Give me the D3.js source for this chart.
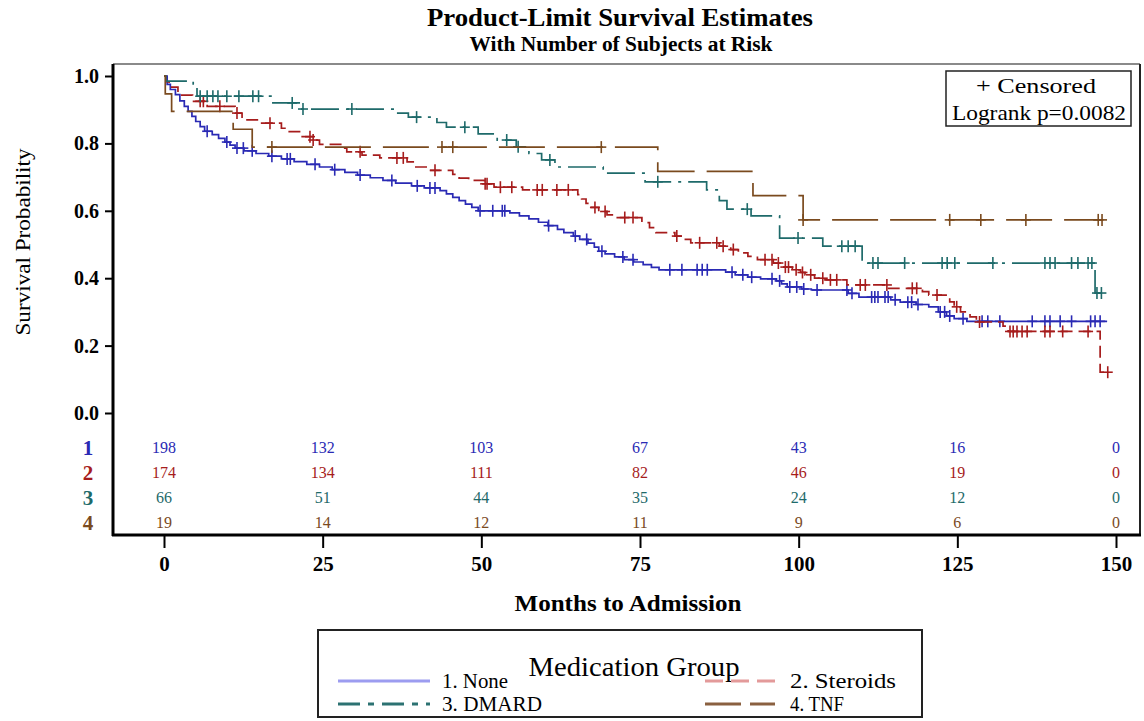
<!DOCTYPE html>
<html><head><meta charset="utf-8">
<script src="https://cdn.jsdelivr.net/npm/d3@7"></script>
<style>
body{margin:0;background:#fff;}
svg{font-family:"Liberation Serif","Times New Roman",serif;}
</style></head>
<body><svg id="c" width="1144" height="721"></svg>
<script>
// ---------- DATA ----------
const groups = ["1. None", "2. Steroids", "3. DMARD", "4. TNF"];
const rowLabels = ["1", "2", "3", "4"];
const xTicks = [0, 25, 50, 75, 100, 125, 150];
const yTicks = [0.0, 0.2, 0.4, 0.6, 0.8, 1.0];

// Group 1: None
const noneTimes = [0,0.5,1.0,1.8,2.5,3.2,3.8,4.4,5.0,5.7,6.4,7.6,8.6,9.6,10.4,11.2,12.6,14.5,16.5,18.5,20.5,22.5,24.5,26.5,28.5,30.5,32.5,34.5,36.5,39,41,43.5,44.5,45.5,46.5,47.5,48.5,49.5,54.5,56,57.5,59,60.5,62,63,64.5,65.5,66.8,67.8,68.5,69.5,71,72.5,74,75.5,76.8,78,88.5,90,92,94,96.5,97.3,98.2,100.5,102,107.8,109.5,114.5,116,118.5,120.5,122,123.3,124.5,126.5];
const noneSurv = [1.0,0.975,0.96,0.945,0.926,0.91,0.895,0.88,0.865,0.85,0.836,0.826,0.815,0.804,0.795,0.786,0.778,0.770,0.762,0.754,0.746,0.738,0.730,0.722,0.714,0.706,0.698,0.690,0.682,0.674,0.668,0.660,0.650,0.640,0.630,0.620,0.610,0.600,0.594,0.585,0.576,0.566,0.556,0.545,0.535,0.525,0.515,0.504,0.492,0.480,0.472,0.463,0.455,0.448,0.440,0.432,0.425,0.418,0.410,0.403,0.398,0.392,0.383,0.374,0.368,0.365,0.355,0.344,0.336,0.329,0.322,0.315,0.300,0.288,0.280,0.272];
const noneCensor = [6.8,9.9,11.5,12.5,13.9,17,19.4,19.9,23.8,26.9,30.9,35.9,39.9,41.9,42.7,49.8,51.8,53.3,53.7,60.6,64.8,66.6,69,72.3,73.9,79.7,81.6,84,84.8,85.6,89.5,91.2,92.6,95.8,97,98.6,99.7,100.8,102.9,107.6,108.4,111.5,112,112.5,113.6,114.1,115.2,117.2,117.8,118.8,122.3,123,123.8,125.9,128.9,129.8,131.7,136.8,138.8,139.6,141.2,143,146,146.7,147.5];
const noneEnd = 148.6;

// Group 2: Steroids
const steroidTimes = [0,0.3,0.8,2.2,2.8,4.5,6.8,11.2,12.3,15,18.5,19.5,21.5,23.5,24.5,28,28.8,31.2,34,38.3,39.5,42,45.5,46.5,48,50.5,52,56.5,65.2,65.8,66.5,67.2,68.5,69.8,71,75.3,76.5,77.5,80.5,82,83,87.5,89.3,90.5,92,93.5,96,97.5,99,100.3,101,102.5,104,107.6,114,119.5,120.5,123.8,124.5,125.5,127,128,132.2,133,147.5];
const steroidSurv = [1.0,0.983,0.967,0.955,0.943,0.925,0.91,0.89,0.87,0.86,0.845,0.835,0.82,0.81,0.797,0.786,0.775,0.765,0.757,0.745,0.73,0.72,0.708,0.697,0.69,0.68,0.67,0.662,0.648,0.635,0.622,0.61,0.598,0.588,0.58,0.565,0.55,0.535,0.525,0.515,0.505,0.495,0.485,0.475,0.465,0.455,0.445,0.433,0.425,0.417,0.41,0.40,0.395,0.38,0.37,0.36,0.35,0.33,0.315,0.30,0.285,0.27,0.258,0.242,0.121];
const steroidCensor = [5.7,6.2,8.8,11.5,16.7,23,23.5,30.9,36.7,37.7,42.7,50.6,50.9,53,54.8,58.8,59.6,61.9,63.7,67.9,69.5,72.6,73.9,80.8,84.4,87.1,88.1,89.7,94.7,95.8,96.8,97.9,98.4,99.6,100.6,101.9,103.8,105,106,109.7,110.5,113.9,117.9,118.6,121.8,124.9,128.5,133.3,133.8,134.4,135.2,136,138.8,139.6,141.6,145.6,148.7];
const steroidEnd = 148.7;

// Group 3: DMARD
const dmardTimes = [0,0.3,4.6,5.2,17,21.7,36.7,38.5,43,44.5,49.5,52.5,55.5,57.5,59.5,61.6,69.2,75.8,85.5,87.5,88.7,92.5,97.0,103.8,110,146.7];
const dmardSurv = [1.0,0.985,0.97,0.94,0.92,0.902,0.89,0.878,0.862,0.848,0.828,0.81,0.79,0.77,0.751,0.73,0.712,0.686,0.662,0.63,0.605,0.585,0.519,0.495,0.445,0.356];
const dmardCensor = [5.7,6.8,7.7,8.5,9.9,11.8,14,14.9,20.2,21.9,29.6,39.8,47.4,54,55.8,60.8,77.8,91.9,99.9,106.8,107.8,108.9,111.7,112.5,116.7,122.6,123.4,124.6,130.6,138.8,139.6,140.4,143,144,145.6,146.2,147.0,147.7];
const dmardEnd = 148.5;

// Group 4: TNF
const tnfTimes = [0,0.2,1.2,10.9,13.9,77.8,92.8,100.7];
const tnfSurv = [1.0,0.947,0.895,0.842,0.789,0.717,0.645,0.573];
const tnfCensor = [17,43.8,45.5,68.9,100.7,123.8,128.7,135.8,147.2,147.8];
const tnfEnd = 148;

// Number at risk (rows = groups, columns = xTicks)
const riskNone = [198,132,103,67,43,16,0];
const riskSteroids = [174,134,111,82,46,19,0];
const riskDmard = [66,51,44,35,24,12,0];
const riskTnf = [19,14,12,11,9,6,0];

// ---------- STYLE ----------
const colors = ["#2a2ab4","#a61c1c","#1e6a6a","#7a4a1e"];
const legendColors = ["#9c9cf0","#e39a9a","#2c7272","#8a6040"];
const dashes = [null,"12,6","28,7,3,7","46,12"];
const legendDashes = [null,"18,8","22,8,6,8","36,9"];

const series = [
  {t:noneTimes,s:noneSurv,c:noneCensor,end:noneEnd,risk:riskNone},
  {t:steroidTimes,s:steroidSurv,c:steroidCensor,end:steroidEnd,risk:riskSteroids},
  {t:dmardTimes,s:dmardSurv,c:dmardCensor,end:dmardEnd,risk:riskDmard},
  {t:tnfTimes,s:tnfSurv,c:tnfCensor,end:tnfEnd,risk:riskTnf}
];

const svg = d3.select("#c");
const x = d3.scaleLinear().domain([0,150]).range([164,1116]);
const y = d3.scaleLinear().domain([0,1]).range([413,76]);
const frame = {l:113, t:64, r:1140, b:535};

function txt(xp, yp, s, size, opts={}){
  const t = svg.append("text").attr("x",xp).attr("y",yp).attr("font-size",size)
    .attr("text-anchor",opts.anchor||"middle").text(s);
  if(opts.bold) t.attr("font-weight","bold");
  if(opts.len) t.attr("textLength",opts.len).attr("lengthAdjust","spacingAndGlyphs");
  if(opts.fill) t.attr("fill",opts.fill);
  return t;
}

// Titles
txt(620, 26, "Product-Limit Survival Estimates", 26, {bold:true, len:386});
txt(621, 51, "With Number of Subjects at Risk", 20, {bold:true, len:303});

// Frame
svg.append("line").attr("x1",frame.l).attr("x2",frame.r).attr("y1",frame.t).attr("y2",frame.t)
  .attr("stroke","#8a8a8a").attr("stroke-width",2);
svg.append("line").attr("x1",frame.r).attr("x2",frame.r).attr("y1",frame.t).attr("y2",frame.b)
  .attr("stroke","#222").attr("stroke-width",2);

// Y axis
const yAxis = svg.append("g").attr("transform",`translate(${frame.l},0)`)
  .call(d3.axisLeft(y).tickValues(yTicks).tickFormat(d3.format(".1f")).tickSize(8).tickPadding(6));
yAxis.select(".domain").remove();
yAxis.selectAll(".tick line").attr("stroke","#000").attr("stroke-width",2);
yAxis.selectAll("text").attr("font-family","Liberation Serif").attr("font-size",20).attr("font-weight","bold").attr("fill","#000");
svg.append("line").attr("x1",frame.l).attr("x2",frame.l).attr("y1",frame.t).attr("y2",frame.b+1)
  .attr("stroke","#000").attr("stroke-width",3);

// X axis
const xAxis = svg.append("g").attr("transform",`translate(0,${frame.b})`)
  .call(d3.axisBottom(x).tickValues(xTicks).tickSize(13).tickPadding(8));
xAxis.select(".domain").remove();
xAxis.selectAll(".tick line").attr("stroke","#000").attr("stroke-width",2);
xAxis.selectAll("text").attr("font-family","Liberation Serif").attr("font-size",21).attr("font-weight","bold").attr("fill","#000");
svg.append("line").attr("x1",frame.l-1).attr("x2",frame.r+1).attr("y1",frame.b).attr("y2",frame.b)
  .attr("stroke","#000").attr("stroke-width",3);

// Axis labels
svg.append("text").attr("transform","translate(30,242) rotate(-90)").attr("text-anchor","middle")
  .attr("font-size",22).attr("textLength",187).attr("lengthAdjust","spacingAndGlyphs").text("Survival Probability");
txt(628, 611, "Months to Admission", 24, {bold:true, len:227});

// Curves
const line = d3.line().x(d=>x(d[0])).y(d=>y(d[1])).curve(d3.curveStepAfter);
function survAt(sr,t){let v=sr.s[0];for(let i=0;i<sr.t.length;i++){if(sr.t[i]<=t)v=sr.s[i];}return v;}
series.forEach((sr,k)=>{
  const pts = sr.t.map((t,i)=>[t,sr.s[i]]);
  pts.push([sr.end, sr.s[sr.s.length-1]]);
  const p = svg.append("path").datum(pts).attr("d",line).attr("fill","none")
    .attr("stroke",colors[k]).attr("stroke-width",1.7);
  if(dashes[k]) p.attr("stroke-dasharray",dashes[k]);
  const g = svg.append("g").attr("stroke",colors[k]).attr("stroke-width",1.6);
  sr.c.forEach(t=>{
    const cx = x(t), cy = y(survAt(sr,t));
    g.append("line").attr("x1",cx).attr("x2",cx).attr("y1",cy-6).attr("y2",cy+6);
    g.append("line").attr("x1",cx-5).attr("x2",cx+5).attr("y1",cy).attr("y2",cy);
  });
});

// At-risk table
const rowY = [454,479,504,529];
series.forEach((sr,k)=>{
  txt(88, rowY[k]+1, rowLabels[k], 21, {bold:true, fill:colors[k]});
  sr.risk.forEach((v,i)=>{
    txt(x(xTicks[i]), rowY[k]-1, v, 16, {fill:colors[k]});
  });
});

// Censored / logrank box
svg.append("rect").attr("x",946).attr("y",71).attr("width",185).attr("height",55)
  .attr("fill","#fff").attr("stroke","#222").attr("stroke-width",1.5);
txt(1036, 93, "+ Censored", 22, {len:120});
txt(1039, 120, "Logrank p=0.0082", 22, {len:174});

// Legend
svg.append("rect").attr("x",318).attr("y",630).attr("width",604).attr("height",87)
  .attr("fill","#fff").attr("stroke","#222").attr("stroke-width",2);
txt(634, 676, "Medication Group", 27, {len:211});
const legPos = [{lx:338,tx:442,y:681,len:66},{lx:705,tx:790,y:681,len:106},{lx:338,tx:442,y:704,len:100},{lx:705,tx:790,y:704,len:54}];
groups.forEach((gname,k)=>{
  const p = legPos[k];
  const w = p.lx===338 ? 92 : 70;
  const l = svg.append("line").attr("x1",p.lx).attr("x2",p.lx+w).attr("y1",p.y).attr("y2",p.y)
    .attr("stroke",legendColors[k]).attr("stroke-width",3);
  if(legendDashes[k]) l.attr("stroke-dasharray",legendDashes[k]);
  txt(p.tx, p.y+7, gname, 21, {anchor:"start", len:p.len});
});
</script></body></html>
